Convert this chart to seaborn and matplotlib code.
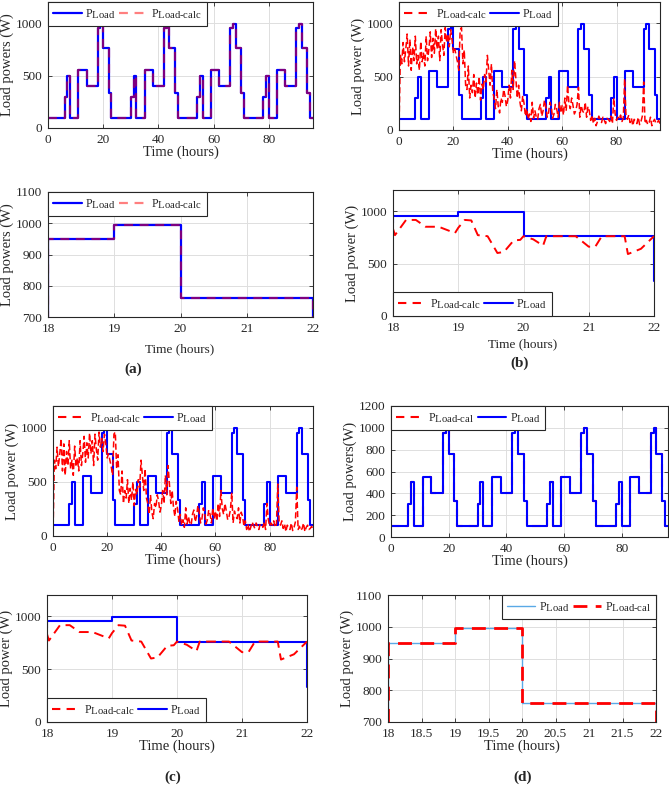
import numpy as np
import pandas as pd
import matplotlib
matplotlib.use("Agg")
import matplotlib.pyplot as plt
import matplotlib._mathtext as _mt
from matplotlib.lines import Line2D
import seaborn as sns

# larger subscripts (MATLAB-like legend text)
_mt.SHRINK_FACTOR = 0.9

# ---------------- data ----------------
# hourly load profile (W), hours 0..95 (value holds for the hour)
load_hourly = [
    100, 100, 100, 100, 100, 100, 300, 500, 100, 100, 100, 550, 550, 550, 400, 400, 400, 400, 950, 995, 760, 760, 330, 100,
    100, 100, 100, 100, 100, 100, 300, 500, 100, 100, 100, 550, 550, 550, 400, 400, 400, 400, 950, 995, 760, 760, 330, 100,
    100, 100, 100, 100, 100, 100, 300, 500, 100, 100, 100, 550, 550, 550, 400, 400, 400, 400, 950, 995, 760, 760, 330, 100,
    100, 100, 100, 100, 100, 100, 300, 500, 100, 100, 100, 550, 550, 550, 400, 400, 400, 400, 950, 995, 760, 760, 330, 100,
]
hours = list(range(97))

# noisy calculated load (W) every half hour, t = 0 .. 96
calc_noisy = [
    0, 700, 620, 820, 640, 760, 900, 600, 850, 560, 780, 650, 880, 620, 700, 560,
    830, 640, 720, 600, 880, 650, 760, 920, 680, 860, 720, 950, 760, 880, 650, 940,
    800, 700, 960, 820, 900, 780, 940, 850, 720, 760, 700, 640, 560, 940, 960, 620,
    750, 420, 380, 600, 300, 420, 350, 520, 300, 440, 330, 500, 280, 430, 380, 520,
    450, 700, 560, 420, 620, 350, 300, 200, 380, 220, 160, 300, 260, 380, 320, 220,
    280, 420, 300, 560, 380, 650, 480, 300, 420, 260, 180, 320, 250, 130, 200, 100,
    150, 80, 260, 110, 180, 120, 100, 200, 240, 130, 180, 280, 220, 120, 160, 260,
    220, 110, 150, 240, 200, 120, 260, 160, 230, 140, 300, 180, 420, 250, 200, 300,
    230, 150, 180, 240, 400, 120, 230, 180, 160, 260, 120, 220, 180, 90, 140, 60,
    110, 40, 80, 130, 100, 70, 120, 90, 60, 110, 100, 80, 130, 60, 300, 150,
    90, 120, 100, 140, 80, 110, 480, 120, 100, 140, 70, 110, 40, 100, 80, 60,
    120, 50, 80, 130, 450, 60, 90, 50, 70, 120, 40, 80, 100, 60, 70, 90,
    60,
]
calc_time = np.arange(0, 96.5, 0.5)

# zoomed window 18-22 h for the estimation case
zoom_load_t = [18, 18, 19, 19, 20, 20, 22, 22]
zoom_load_p = [890, 950, 950, 995, 995, 760, 760, 330]
zoom_calc_t = [18.0, 18.03, 18.2, 18.35, 18.5, 18.7, 18.95, 19.0, 19.1, 19.2, 19.3, 19.45,
               19.6, 19.7, 19.85, 19.95, 20.0, 20.15, 20.3, 20.35, 20.8, 21.0, 21.1, 21.2,
               21.55, 21.6, 21.8, 21.95, 22.0]
zoom_calc_p = [830, 770, 915, 915, 850, 850, 790, 840, 915, 910, 770, 760,
               600, 610, 720, 725, 760, 730, 670, 760, 760, 660, 660, 760,
               760, 590, 640, 730, 760]

# ---------------- style ----------------
sns.set_style("ticks")
plt.rcParams["font.family"] = ["Liberation Serif", "DejaVu Serif"]
plt.rcParams["mathtext.fontset"] = "custom"
plt.rcParams["mathtext.rm"] = "Liberation Serif"
plt.rcParams["mathtext.it"] = "Liberation Serif:italic"
plt.rcParams["mathtext.bf"] = "Liberation Serif:bold"
plt.rcParams["xtick.direction"] = "in"
plt.rcParams["ytick.direction"] = "in"
plt.rcParams["axes.edgecolor"] = "#262626"
plt.rcParams["axes.linewidth"] = 0.8

W, H = 669, 788
fig = plt.figure(figsize=(W / 100, H / 100), dpi=100)


def add_ax(l, r, t, b):
    return fig.add_axes([l / W, 1 - b / H, (r - l) / W, (b - t) / H])


BLUE = "#0000ff"
RED = "#ff0000"
L_LOAD = r"P$_{\mathrm{Load}}$"
L_CALC = r"P$_{\mathrm{Load\text{-}calc}}$"
L_CAL = r"P$_{\mathrm{Load\text{-}cal}}$"


def style(ax, xlim, ylim, xticks, yticks, ylabel, xlabel="Time (hours)", xfs=10.5, yfs=10.5):
    ax.set_xlim(*xlim)
    ax.set_ylim(*ylim)
    ax.set_xticks(xticks)
    ax.set_yticks(yticks)
    ax.set_xticklabels([("%g" % v) for v in xticks])
    ax.tick_params(labelsize=9.5, length=3, width=0.6, top=True, right=True)
    ax.tick_params(axis="x", pad=4)
    ax.tick_params(axis="y", pad=4)
    ax.grid(True, color="#dedede", lw=0.7)
    ax.set_axisbelow(True)
    ax.set_ylabel(ylabel, fontsize=yfs, labelpad=1)
    ax.set_xlabel(xlabel, fontsize=xfs, labelpad=0)
    for s in ax.spines.values():
        s.set_visible(True)


def legend(ax, handles, labels, loc):
    lg = ax.legend(handles, labels, loc=loc, ncol=2, fontsize=8.5, frameon=True,
                   fancybox=False, framealpha=1, edgecolor="#262626",
                   borderaxespad=0, handlelength=2.4, columnspacing=0.3,
                   handletextpad=0.3, borderpad=0.45)
    lg.get_frame().set_linewidth(0.8)


df_load = pd.DataFrame({"t": hours, "p": load_hourly + [load_hourly[-1]]})
df_calc = pd.DataFrame({"t": calc_time, "p": calc_noisy})
df_zl = pd.DataFrame({"t": zoom_load_t, "p": zoom_load_p})
df_zc = pd.DataFrame({"t": zoom_calc_t, "p": zoom_calc_p})

# ---------- (a) top ----------
ax = add_ax(48, 313, 2, 128)
sns.lineplot(data=df_load, x="t", y="p", ax=ax, color=BLUE, lw=1.6, drawstyle="steps-post", estimator=None)
sns.lineplot(data=df_load, x="t", y="p", ax=ax, color=RED, alpha=0.5, lw=1.6, ls=(0, (4, 3)),
             drawstyle="steps-post", estimator=None)
style(ax, (0, 96), (0, 1200), [0, 20, 40, 60, 80], [0, 500, 1000], "Load powers (W)")
legend(ax, [Line2D([], [], color=BLUE, lw=1.6), Line2D([], [], color=RED, alpha=0.5, lw=1.6, ls=(0, (4, 3)))],
       [L_LOAD, L_CALC], "upper left")

# ---------- (a) bottom ----------
ax = add_ax(48, 313, 192, 317)
sns.lineplot(data=df_load, x="t", y="p", ax=ax, color=BLUE, lw=1.6, drawstyle="steps-post", estimator=None)
sns.lineplot(data=df_load, x="t", y="p", ax=ax, color=RED, alpha=0.5, lw=1.6, ls=(0, (4, 3)),
             drawstyle="steps-post", estimator=None)
style(ax, (18, 22), (700, 1100), [18, 19, 20, 21, 22], [700, 800, 900, 1000, 1100], "Load powers (W)")
legend(ax, [Line2D([], [], color=BLUE, lw=1.6), Line2D([], [], color=RED, alpha=0.5, lw=1.6, ls=(0, (4, 3)))],
       [L_LOAD, L_CALC], "upper left")
ax.xaxis.label.set_visible(False)
fig.text(180 / W, 1 - 349 / H, "Time (hours)", ha="center", va="center", fontsize=9.5)
fig.text(133 / W, 1 - 369 / H, "(a)", ha="center", va="center", fontsize=11, fontweight="bold")

# ---------- (b) top ----------
ax = add_ax(399, 660, 2, 130)
sns.lineplot(data=df_load, x="t", y="p", ax=ax, color=BLUE, lw=1.5, drawstyle="steps-post", estimator=None)
sns.lineplot(data=df_calc, x="t", y="p", ax=ax, color=RED, lw=1.1, ls=(0, (4, 2)), estimator=None)
style(ax, (0, 96), (0, 1200), [0, 20, 40, 60, 80], [0, 500, 1000], "Load power (W)")
legend(ax, [Line2D([], [], color=RED, lw=1.5, ls=(0, (4, 3))), Line2D([], [], color=BLUE, lw=1.5)],
       [L_CALC, L_LOAD], "upper left")

# ---------- (b) bottom ----------
ax = add_ax(393, 654, 190, 316)
sns.lineplot(data=df_zl, x="t", y="p", ax=ax, color=BLUE, lw=1.5, estimator=None, sort=False)
sns.lineplot(data=df_zc, x="t", y="p", ax=ax, color=RED, lw=1.4, ls=(0, (5, 3)), estimator=None, sort=False)
style(ax, (18, 22), (0, 1200), [18, 19, 20, 21, 22], [0, 500, 1000], "Load power (W)")
legend(ax, [Line2D([], [], color=RED, lw=1.5, ls=(0, (4, 3))), Line2D([], [], color=BLUE, lw=1.5)],
       [L_CALC, L_LOAD], "lower left")
ax.xaxis.label.set_visible(False)
fig.text(523 / W, 1 - 344 / H, "Time (hours)", ha="center", va="center", fontsize=9.5)
fig.text(520 / W, 1 - 363 / H, "(b)", ha="center", va="center", fontsize=11, fontweight="bold")

# ---------- (c) top ----------
ax = add_ax(53, 313, 406, 536)
sns.lineplot(data=df_load, x="t", y="p", ax=ax, color=BLUE, lw=1.5, drawstyle="steps-post", estimator=None)
sns.lineplot(data=df_calc, x="t", y="p", ax=ax, color=RED, lw=1.1, ls=(0, (4, 2)), estimator=None)
style(ax, (0, 96), (0, 1200), [0, 20, 40, 60, 80], [0, 500, 1000], "Load power (W)")
legend(ax, [Line2D([], [], color=RED, lw=1.5, ls=(0, (4, 3))), Line2D([], [], color=BLUE, lw=1.5)],
       [L_CALC, L_LOAD], "upper left")

# ---------- (c) bottom ----------
ax = add_ax(47, 307, 595, 722)
sns.lineplot(data=df_zl, x="t", y="p", ax=ax, color=BLUE, lw=1.5, estimator=None, sort=False)
sns.lineplot(data=df_zc, x="t", y="p", ax=ax, color=RED, lw=1.4, ls=(0, (5, 3)), estimator=None, sort=False)
style(ax, (18, 22), (0, 1200), [18, 19, 20, 21, 22], [0, 500, 1000], "Load power (W)")
legend(ax, [Line2D([], [], color=RED, lw=1.5, ls=(0, (4, 3))), Line2D([], [], color=BLUE, lw=1.5)],
       [L_CALC, L_LOAD], "lower left")
fig.text(173 / W, 1 - 777 / H, "(c)", ha="center", va="center", fontsize=11, fontweight="bold")

# ---------- (d) top ----------
ax = add_ax(391, 668, 406, 537)
sns.lineplot(data=df_load, x="t", y="p", ax=ax, color=RED, lw=1.5, ls=(0, (4, 3)), drawstyle="steps-post", estimator=None)
sns.lineplot(data=df_load, x="t", y="p", ax=ax, color=BLUE, lw=1.5, drawstyle="steps-post", estimator=None)
style(ax, (0, 96), (0, 1200), [0, 20, 40, 60, 80], list(range(0, 1201, 200)), "Load powers(W)")
legend(ax, [Line2D([], [], color=RED, lw=1.5, ls=(0, (4, 3))), Line2D([], [], color=BLUE, lw=1.5)],
       [L_CAL, L_LOAD], "upper left")

# ---------- (d) bottom ----------
ax = add_ax(388, 656, 595, 722)
sns.lineplot(data=df_load, x="t", y="p", ax=ax, color="#5aa9e6", lw=1.0, drawstyle="steps-post", estimator=None)
sns.lineplot(data=df_load, x="t", y="p", ax=ax, color=RED, lw=2.0, ls=(0, (5, 3)), drawstyle="steps-post", estimator=None)
style(ax, (18, 22), (700, 1100), [18, 18.5, 19, 19.5, 20, 20.5, 21, 21.5, 22],
      [700, 800, 900, 1000, 1100], "Load power (W)")
legend(ax, [Line2D([], [], color="#5aa9e6", lw=1.0), Line2D([], [], color=RED, lw=2.0, ls=(0, (5, 3)))],
       [L_LOAD, L_CAL], "upper right")
fig.text(523 / W, 1 - 777 / H, "(d)", ha="center", va="center", fontsize=11, fontweight="bold")

fig.savefig("out.png", dpi=100)
